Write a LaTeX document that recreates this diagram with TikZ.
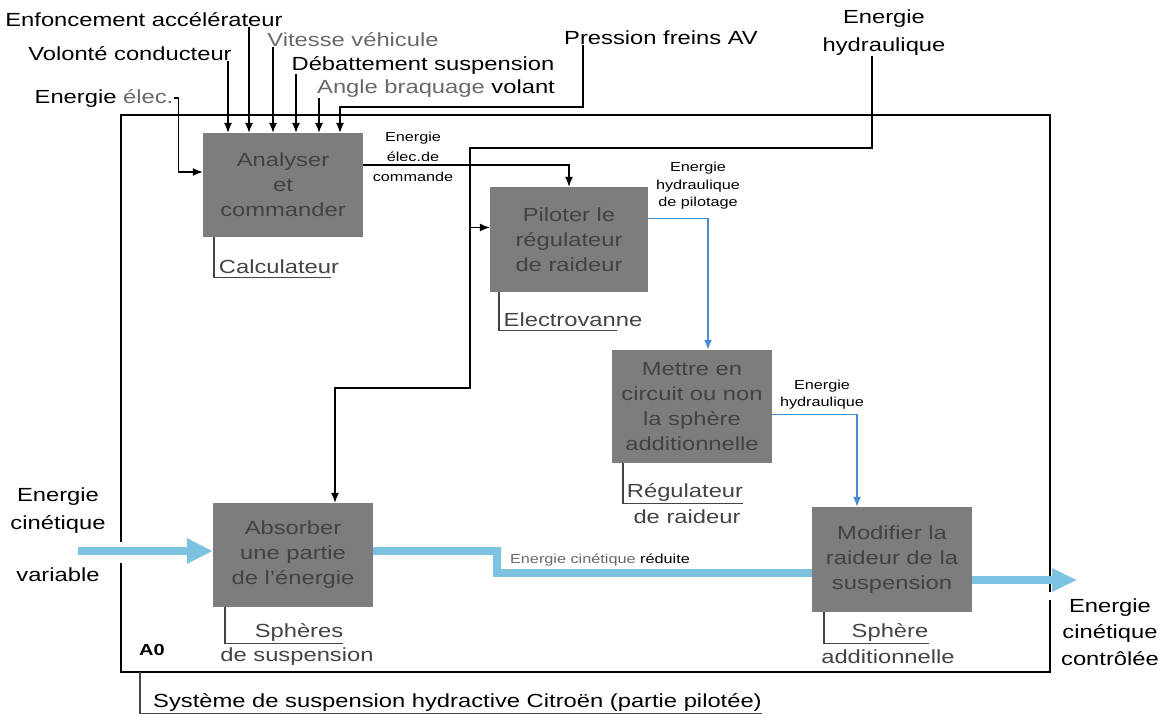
\documentclass[tikz,border=0pt]{standalone}
\usepackage{fontspec}
\setmainfont{Liberation Sans}[FakeStretch=1.25]
\usetikzlibrary{arrows.meta}
\definecolor{boxgray}{RGB}{125,125,125}
\definecolor{boxtext}{RGB}{66,66,66}
\definecolor{hydblue}{RGB}{70,140,210}
\definecolor{kinblue}{RGB}{125,195,225}
\definecolor{dimtext}{RGB}{105,105,105}
\definecolor{mectext}{RGB}{68,68,68}

\begin{document}
\begin{tikzpicture}[x=1pt, y=-1pt, font=\fontsize{19}{23}\selectfont,
  fn/.style={fill=boxgray, text=boxtext, minimum width=160pt, minimum height=104pt, align=center, inner sep=0pt, font=\fontsize{19}{25}\selectfont},
  lab/.style={inner sep=0pt, align=center},
  mec/.style={inner sep=0pt, align=center, text=mectext},
  tinylab/.style={inner sep=0pt, align=center, font=\fontsize{13}{17}\selectfont},
  ctl/.style={line width=1.3pt, -{Latex[length=10pt,width=8pt]}},
  hyd/.style={hydblue, line width=1.5pt, -{Latex[length=10pt,width=8pt]}},
  kin/.style={kinblue, line width=8pt},
  mech/.style={mectext, line width=1.2pt},
  frame/.style={line width=1.4pt}]
\fill[white] (0,0) rectangle (1166,716);
\useasboundingbox (0,0) rectangle (1166,716);

% frame of the A0 diagram
\draw[frame] (121,542) -- (121,115) -- (1050,115) -- (1050,592);
\draw[frame] (121,563) -- (121,672) -- (1050,672) -- (1050,600);
\node[inner sep=0pt, font=\bfseries\fontsize{16}{16}\selectfont] (azero) at (152,650) {A0};

% functions
\node[fn] (analyser) at (283,185) {Analyser\\et\\commander};
\node[fn, minimum width=158pt, minimum height=105pt] (piloter) at (569,239.5) {Piloter le\\régulateur\\de raideur};
\node[fn, minimum height=113pt] (mettre) at (692,406.5) {Mettre en\\circuit ou non\\la sphère\\additionnelle};
\node[fn] (absorber) at (293,555) {Absorber\\une partie\\de l'énergie};
\node[fn, minimum height=105pt] (modifier) at (892,559.5) {Modifier la\\raideur de la\\suspension};

% controls
\node[lab] (enfonc) at (144,20) {Enfoncement accélérateur};
\node[lab] (volonte) at (130,54) {Volonté conducteur};
\node[lab, text=dimtext] (vitesse) at (353,40) {Vitesse véhicule};
\node[lab] (debat) at (423,65) {Débattement suspension};
\node[lab] (angle) at (436,89) {\textcolor{dimtext}{Angle braquage} volant};
\node[lab] (pression) at (661,38) {Pression freins AV};
\node[lab] (elec) at (104,98) {Energie \textcolor{dimtext}{élec.}};
\node[lab, font=\fontsize{19}{28}\selectfont] (hydr) at (884,33) {Energie\\hydraulique};

\foreach \lab/\dx in {volonte/-55, enfonc/-34, vitesse/-10, debat/13, angle/36}
\draw[ctl] ([xshift=\dx pt]analyser.north |- \lab.south) -- ([xshift=\dx pt]analyser.north);

\coordinate (brk) at (583,107);
\draw[ctl] (pression.south -| brk) -- (brk) -| ([xshift=57pt]analyser.north);
\draw[ctl] (elec.east) -- ++(5,0) |- ([yshift=13pt]analyser.west);

\draw[ctl] ([yshift=20pt]analyser.east) -| (piloter.north);
\node[tinylab, font=\fontsize{13}{20}\selectfont] (cmd) at (413,157) {Energie\\élec.de\\commande};

\coordinate (bus) at (470,148);
\coordinate (drop) at (470,388);
\draw[ctl] ([xshift=-12pt]hydr.south) |- (bus) -- (drop) -| ([xshift=42pt]absorber.north);
\draw[ctl] ([yshift=12pt]piloter.west -| bus) -- ([yshift=12pt]piloter.west);

% hydraulic energy
\draw[hyd] ([yshift=21pt]piloter.east) -| ([xshift=16pt]mettre.north);
\node[tinylab, font=\fontsize{13}{17.5}\selectfont] (pilot) at (698,186) {Energie\\hydraulique\\de pilotage};
\draw[hyd] ([yshift=-8pt]mettre.east) -| ([xshift=-35pt]modifier.north);
\node[tinylab] (hydlab) at (822,395) {Energie\\hydraulique};

% kinetic energy
\node[lab, font=\fontsize{19}{28}\selectfont] (kinvar) at (58,511) {Energie\\cinétique};
\node[lab] (variable) at (58,575) {variable};
\coordinate (kin) at (78,551);
\draw[kin, -{Triangle[length=26pt,width=24pt]}] (kin) -- ([yshift=4pt]absorber.west);
\coordinate (step) at (497,551);
\draw[kin] ([yshift=4pt]absorber.east) -- (step) |- ([yshift=-13.5pt]modifier.west);
\node[tinylab] (reduite) at (600,560) {\textcolor{dimtext}{Energie cinétique} réduite};
\coordinate (kout) at (1077,580);
\draw[kin, -{Triangle[length=25pt,width=22pt]}] ([yshift=-20.5pt]modifier.east) -- (kout);
\node[lab, font=\fontsize{19}{26.5}\selectfont] (ctrl) at (1110,632) {Energie\\cinétique\\contrôlée};

% mechanisms
\node[mec] (calc) at (279,267) {Calculateur};
\draw[mech] ([xshift=-69pt]analyser.south) |- ([shift={(-8pt,-3pt)}]calc.south east);
\node[mec] (evanne) at (573,320) {Electrovanne};
\draw[mech] ([xshift=-70pt]piloter.south) |- ([shift={(-26pt,-3pt)}]evanne.south east);
\node[mec] (regul) at (685,492) {Régulateur};
\node[mec] (regul2) at (687,517) {de raideur};
\draw[mech] ([xshift=-69pt]mettre.south) |- ([yshift=-2pt]regul.south east);
\node[mec] (sph) at (299,632) {Sphères};
\node[mec] (sph2) at (297,657) {de suspension};
\draw[mech] ([xshift=-68pt]absorber.south) |- ([yshift=-2pt]sph.south east);
\node[mec] (sph3) at (890,632) {Sphère};
\node[mec] (sph4) at (888,657) {additionnelle};
\draw[mech] ([xshift=-68pt]modifier.south) |- ([yshift=-2pt]sph3.south east);

\node[lab, anchor=west] (sys) at (153,702) {Système de suspension hydractive Citroën (partie pilotée)};
\coordinate (sysfoot) at (140,672);
\draw[mech] (sysfoot) |- ([yshift=-2pt]sys.south east);
\end{tikzpicture}
\end{document}
